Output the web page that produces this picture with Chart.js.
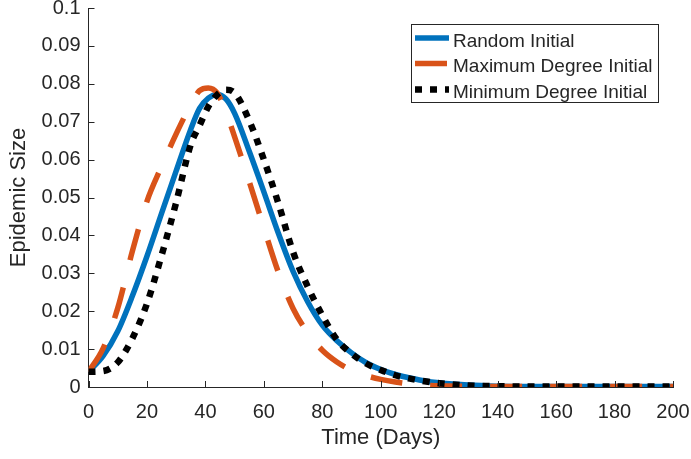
<!DOCTYPE html>
<html>
<head>
<meta charset="utf-8">
<script src="https://cdn.jsdelivr.net/npm/chart.js@4.4.1/dist/chart.umd.min.js"></script>
<style>
  html, body { margin: 0; padding: 0; background: #fff; }
  #chart { display: block; }
</style>
</head>
<body>
<canvas id="chart" width="691" height="459"></canvas>
<script>
const days = [0, 5, 10, 15, 20, 25, 30, 35, 38, 41, 44, 47, 50, 55, 60, 65, 70, 75, 80, 85,
  90, 95, 100, 105, 110, 115, 120, 130, 140, 150, 160, 170, 180, 190, 200];

const randomInitial = [0.0040, 0.0082, 0.0147, 0.0240, 0.0345, 0.0458, 0.0570, 0.0680, 0.0735, 0.0762,
  0.0772, 0.0760, 0.0722, 0.0622, 0.0515, 0.0405, 0.0305, 0.0225, 0.0163, 0.0122,
  0.0090, 0.0064, 0.0046, 0.0033, 0.0024, 0.0016, 0.0011, 0.0005, 0.0002, 0.0001,
  0.0001, 0.0001, 0.0001, 0.0001, 0.0001];

const maxDegreeInitial = [0.0040, 0.0102, 0.0208, 0.0358, 0.0490, 0.0582, 0.0668, 0.0745, 0.0782, 0.0789,
  0.0776, 0.0726, 0.0660, 0.0542, 0.0420, 0.0302, 0.0207, 0.0143, 0.0097, 0.0066,
  0.0044, 0.0030, 0.0020, 0.0013, 0.0008, 0.0005, 0.0003, 0.0002, 0.0001, 0.0001,
  0.0001, 0.0001, 0.0001, 0.0001, 0.0001];

const minDegreeInitial = [0.0040, 0.0042, 0.0065, 0.0128, 0.0220, 0.0347, 0.0487, 0.0640, 0.0690, 0.0740,
  0.0771, 0.0784, 0.0776, 0.0703, 0.0600, 0.0484, 0.0356, 0.0265, 0.0189, 0.0125,
  0.0088, 0.0062, 0.0045, 0.0031, 0.0022, 0.0015, 0.0010, 0.0004, 0.0002, 0.0001,
  0.0001, 0.0001, 0.0001, 0.0001, 0.0001];

const seriesNames = ["Random Initial", "Maximum Degree Initial", "Minimum Degree Initial"];
const xTickLabels = ["0", "20", "40", "60", "80", "100", "120", "140", "160", "180", "200"];
const yTickLabels = ["0", "0.01", "0.02", "0.03", "0.04", "0.05", "0.06", "0.07", "0.08", "0.09", "0.1"];

const axisColor = "#262626";
const fontFamily = "'Liberation Sans', Arial, Helvetica, sans-serif";

function toPoints(values) {
  return days.map((d, i) => ({ x: d, y: values[i] }));
}

// short tick marks pointing into the plot, no box on top/right
const innerTicks = {
  id: "innerTicks",
  afterDatasetsDraw(chart) {
    const { ctx, chartArea, scales: { x, y } } = chart;
    ctx.save();
    ctx.strokeStyle = axisColor;
    ctx.lineWidth = 1;
    ctx.beginPath();
    x.ticks.forEach(t => {
      const px = Math.round(x.getPixelForValue(t.value)) + 0.5;
      ctx.moveTo(px, chartArea.bottom);
      ctx.lineTo(px, chartArea.bottom - 6);
    });
    y.ticks.forEach(t => {
      const py = Math.round(y.getPixelForValue(t.value)) + 0.5;
      ctx.moveTo(chartArea.left, py);
      ctx.lineTo(chartArea.left + 6, py);
    });
    ctx.stroke();
    ctx.restore();
  }
};

// boxed legend in the upper right, samples use each dataset's own stroke
const boxLegend = {
  id: "boxLegend",
  afterDraw(chart) {
    const { ctx } = chart;
    const left = 411, top = 24, right = 658, bottom = 102;
    const rows = [38, 63.5, 89.5];
    ctx.save();
    ctx.fillStyle = "#fff";
    ctx.fillRect(left, top, right - left, bottom - top);
    ctx.strokeStyle = axisColor;
    ctx.lineWidth = 1;
    ctx.strokeRect(left + 0.5, top + 0.5, right - left, bottom - top);
    chart.data.datasets.forEach((ds, i) => {
      const y = rows[i];
      ctx.beginPath();
      ctx.strokeStyle = ds.borderColor;
      ctx.lineWidth = ds.borderWidth;
      ctx.setLineDash(ds.borderDash || []);
      ctx.moveTo(415, y);
      ctx.lineTo(449, y);
      ctx.stroke();
      ctx.setLineDash([]);
      ctx.fillStyle = axisColor;
      ctx.font = "19px " + fontFamily;
      ctx.textBaseline = "alphabetic";
      ctx.fillText(ds.label, 453, y + 8.5);
    });
    ctx.restore();
  }
};

const ctx = document.getElementById("chart").getContext("2d");
new Chart(ctx, {
  type: "line",
  data: {
    datasets: [
      {
        label: seriesNames[0],
        data: toPoints(randomInitial),
        borderColor: "#0072BD",
        borderWidth: 5.5,
        order: 3
      },
      {
        label: seriesNames[1],
        data: toPoints(maxDegreeInitial),
        borderColor: "#D95319",
        borderWidth: 5.5,
        borderDash: [32, 28],
        order: 2
      },
      {
        label: seriesNames[2],
        data: toPoints(minDegreeInitial),
        borderColor: "#000000",
        borderWidth: 6.5,
        borderDash: [7, 8],
        order: 1
      }
    ]
  },
  options: {
    responsive: false,
    devicePixelRatio: 1,
    animation: false,
    layout: { padding: { top: 8, right: 18, bottom: 0, left: 0 } },
    elements: {
      point: { radius: 0 },
      line: { cubicInterpolationMode: "monotone", fill: false, borderCapStyle: "butt" }
    },
    plugins: {
      legend: { display: false },
      tooltip: { enabled: false }
    },
    scales: {
      x: {
        type: "linear",
        min: 0,
        max: 200,
        grid: { display: false, drawTicks: false },
        border: { display: true, color: axisColor, width: 1 },
        ticks: {
          stepSize: 20,
          autoSkip: false,
          maxRotation: 0,
          padding: 13,
          color: axisColor,
          font: { size: 20, family: fontFamily },
          callback: v => xTickLabels[Math.round(v / 20)]
        },
        title: {
          display: true,
          text: "Time (Days)",
          color: axisColor,
          font: { size: 22, family: fontFamily },
          padding: { top: 0, bottom: 8 }
        },
        afterFit(scale) {
          scale.height = 72;
          scale.paddingLeft = 0;
          scale.paddingRight = 0;
        }
      },
      y: {
        min: 0,
        max: 0.1,
        grid: { display: false, drawTicks: false },
        border: { display: true, color: axisColor, width: 1 },
        ticks: {
          stepSize: 0.01,
          padding: 8,
          color: axisColor,
          font: { size: 20, family: fontFamily },
          callback: v => yTickLabels[Math.round(v * 100)]
        },
        title: {
          display: true,
          text: "Epidemic Size",
          color: axisColor,
          font: { size: 22, family: fontFamily },
          padding: { top: 6, bottom: 0 }
        },
        afterFit(scale) {
          scale.width = 88.5;
          scale.paddingTop = 0;
          scale.paddingBottom = 0;
        }
      }
    }
  },
  plugins: [innerTicks, boxLegend]
});
</script>
</body>
</html>
